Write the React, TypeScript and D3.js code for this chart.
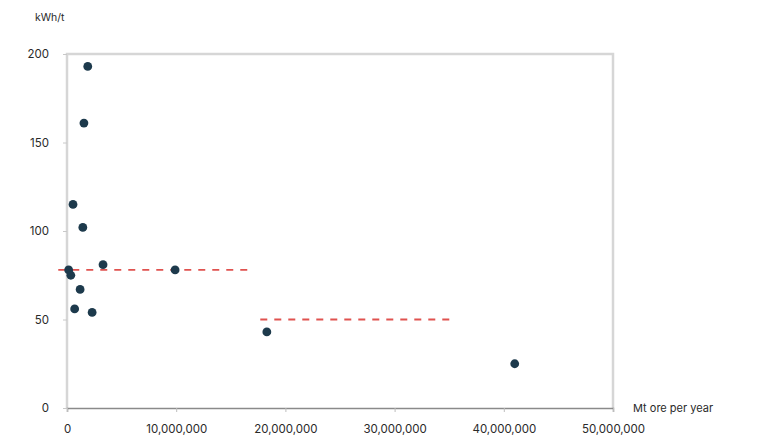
import React, { useEffect, useRef } from "react";
import * as d3 from "d3";

// ore throughput (t/yr) and specific energy (kWh/t) per mine
const oreTonnes = [1900000, 1550000, 550000, 1450000, 150000, 350000, 3300000, 9900000, 1200000, 700000, 2300000, 18300000, 41000000];
const energyKwh = [193, 161, 115, 102, 78, 75, 81, 78, 67, 56, 54, 43, 25];

// group averages shown as dashed lines
const avgStart = [-800000, 17700000];
const avgEnd = [16600000, 35300000];
const avgValue = [78, 50];

const xTicks = [0, 10000000, 20000000, 30000000, 40000000, 50000000];
const yTicks = [0, 50, 100, 150, 200];

const App = () => {
  const ref = useRef<SVGSVGElement>(null);

  useEffect(() => {
    const svg = d3.select(ref.current);
    svg.selectAll("*").remove();

    const left = 67, right = 613, top = 54, bottom = 408;
    const x = d3.scaleLinear().domain([0, 50000000]).range([left, right]);
    const y = d3.scaleLinear().domain([0, 200]).range([bottom, top]);
    const font = "Inter, 'DejaVu Sans', sans-serif";

    // light frame
    svg.append("path")
      .attr("d", `M${left},${bottom} V${top} H${right} V${bottom}`)
      .attr("fill", "none")
      .attr("stroke", "#d6d6d6")
      .attr("stroke-width", 2.5);

    const xAxis = d3.axisBottom(x)
      .tickValues(xTicks)
      .tickSize(4)
      .tickPadding(13)
      .tickFormat((d) => d3.format(",")(d as number));
    const gx = svg.append("g").attr("transform", `translate(0,${bottom})`).call(xAxis);
    gx.select(".domain").attr("stroke", "#8a8a8a").attr("stroke-width", 1.5);
    gx.selectAll(".tick line").attr("stroke", "#bdbdbd");
    gx.selectAll("text").attr("font-family", font).attr("font-size", 11.5).attr("fill", "#2a2a2a");

    const yAxis = d3.axisLeft(y).tickValues(yTicks).tickSize(4).tickPadding(14);
    const gy = svg.append("g").attr("transform", `translate(${left},0)`).call(yAxis);
    gy.select(".domain").remove();
    gy.selectAll(".tick line").attr("stroke", "#c8c8c8");
    gy.selectAll("text").attr("font-family", font).attr("font-size", 11.5).attr("fill", "#2a2a2a");

    svg.append("text")
      .attr("x", 35).attr("y", 21)
      .attr("font-family", font).attr("font-size", 10.5).attr("fill", "#2a2a2a")
      .text("kWh/t");

    svg.append("text")
      .attr("x", 633).attr("y", bottom + 4)
      .attr("font-family", font).attr("font-size", 11).attr("fill", "#2a2a2a")
      .text("Mt ore per year");

    svg.selectAll(".avg")
      .data(avgValue)
      .join("line")
      .attr("class", "avg")
      .attr("x1", (d, i) => x(avgStart[i]))
      .attr("x2", (d, i) => x(avgEnd[i]))
      .attr("y1", (d) => y(d))
      .attr("y2", (d) => y(d))
      .attr("stroke", "#e0524f")
      .attr("stroke-width", 1.8)
      .attr("stroke-dasharray", "7,7");

    svg.selectAll(".dot")
      .data(energyKwh)
      .join("circle")
      .attr("class", "dot")
      .attr("cx", (d, i) => x(oreTonnes[i]))
      .attr("cy", (d) => y(d))
      .attr("r", 4.4)
      .attr("fill", "#1d3a4c");
  }, []);

  return (
    <svg
      ref={ref}
      width={760}
      height={441}
      style={{ position: "absolute", left: 0, top: 0, background: "#fff" }}
    />
  );
};

export default App;
